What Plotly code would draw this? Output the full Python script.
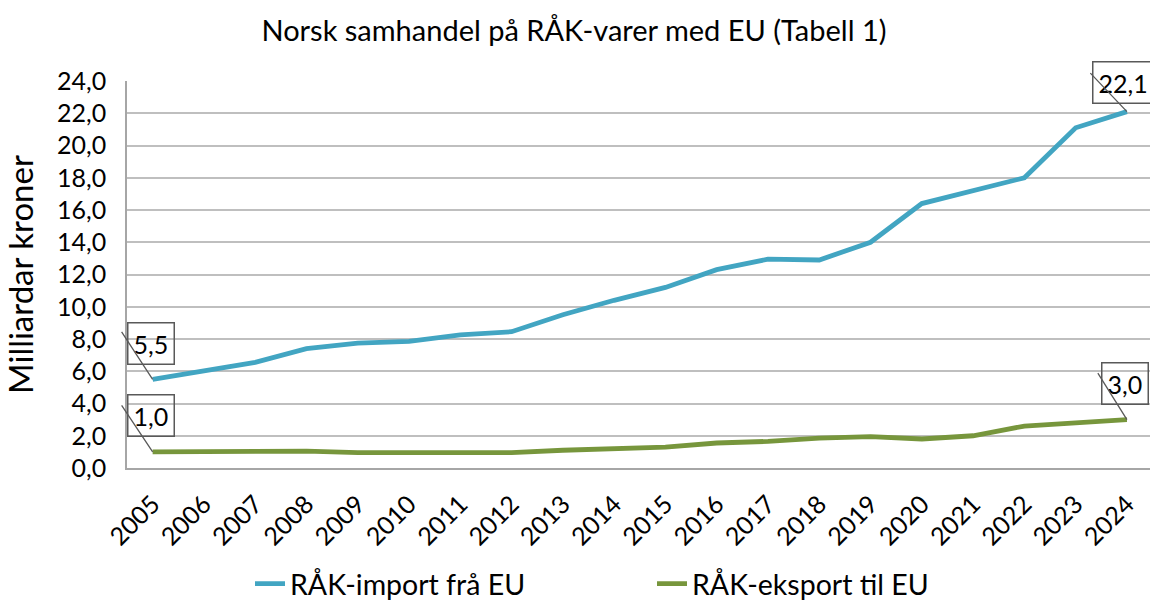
import plotly.graph_objects as go

years = [str(y) for y in range(2005, 2025)]
rak_import = [5.5, 6.0, 6.55, 7.4, 7.75, 7.85, 8.25, 8.45, 9.5, 10.4, 11.2, 12.3, 12.95, 12.9, 14.0, 16.4, 17.2, 18.0, 21.1, 22.1]
rak_export = [1.0, 1.0, 1.0, 1.05, 0.95, 0.93, 0.9, 0.95, 1.1, 1.2, 1.3, 1.55, 1.65, 1.85, 1.95, 1.8, 2.0, 2.6, 2.8, 3.0]
y_ticks = [0, 2, 4, 6, 8, 10, 12, 14, 16, 18, 20, 22, 24]
y_tick_labels = [f"{v:.1f}".replace(".", ",") for v in y_ticks]

FONT = "Lato, 'Open Sans', sans-serif"
C_IMP = "#42A5C2"
C_EXP = "#77963C"

fig = go.Figure()
fig.add_trace(go.Scatter(x=list(range(len(years))), y=rak_import, mode="lines",
                         name="RÅK-import frå EU", line=dict(color=C_IMP, width=4.8)))
fig.add_trace(go.Scatter(x=list(range(len(years))), y=rak_export, mode="lines",
                         name="RÅK-eksport til EU", line=dict(color=C_EXP, width=4.8)))

def label(idx, series, box_dx, box_dy, line_dx, line_dy):
    val = series[idx]
    txt = f"{val:.1f}".replace(".", ",")
    # box
    fig.add_annotation(x=idx, y=val, xref="x", yref="y", text=txt, showarrow=False,
                       xshift=box_dx, yshift=-box_dy, bordercolor="#595959", borderwidth=1.5,
                       borderpad=5, bgcolor="rgba(255,255,255,0)",
                       font=dict(family=FONT, size=25, color="black"))
    # leader line
    fig.add_annotation(x=idx, y=val, xref="x", yref="y", text="", showarrow=True,
                       arrowhead=0, arrowwidth=1.3, arrowcolor="#595959",
                       ax=line_dx, ay=line_dy, standoff=0, startstandoff=0)

label(0, rak_import, -2, -36, -32, -49)
label(0, rak_export, -2, -36, -32, -48)
label(19, rak_import, -4, -29, -38, -40)
label(19, rak_export, -2, -36, -30, -48)

fig.update_layout(
    width=1150, height=601,
    paper_bgcolor="white", plot_bgcolor="white",
    margin=dict(l=127, r=0, t=81, b=133, autoexpand=False),
    font=dict(family=FONT, size=25, color="black"),
    title=dict(text="Norsk samhandel på RÅK-varer med EU (Tabell 1)", x=574 / 1150, xref="container",
               xanchor="center", y=1 - 31 / 601, yref="container", yanchor="middle",
               font=dict(family=FONT, size=29, color="black")),
    showlegend=True,
    legend=dict(orientation="h", x=(250 - 127) / 1023, xanchor="left",
                y=(468 - 584) / 387, yanchor="middle",
                entrywidth=357, entrywidthmode="pixels",
                font=dict(family=FONT, size=28.5, color="black")),
    xaxis=dict(range=[-0.5, 19.45], tickmode="array", tickvals=list(range(len(years))),
               ticktext=years, tickangle=-45, showgrid=False, showline=True,
               linecolor="#A6A6A6", linewidth=1.5, ticks="", zeroline=False,
               automargin=False, ticklabelstandoff=10,
               tickfont=dict(family=FONT, size=25, color="black")),
    yaxis=dict(range=[0, 24], tickmode="array", tickvals=y_ticks, ticktext=y_tick_labels,
               showgrid=True, gridcolor="#BFBFBF", gridwidth=1.5, showline=True,
               linecolor="#A6A6A6", linewidth=1.5, zeroline=False, ticks="",
               automargin=False, ticklabelstandoff=14,
               title=dict(text="Milliardar kroner", font=dict(family=FONT, size=33, color="black"),
                          standoff=16),
               tickfont=dict(family=FONT, size=25, color="black")),
)

fig.write_html("out.html", config={"displayModeBar": False},
               post_script="document.body.style.margin='0';document.body.style.overflow='hidden';")
